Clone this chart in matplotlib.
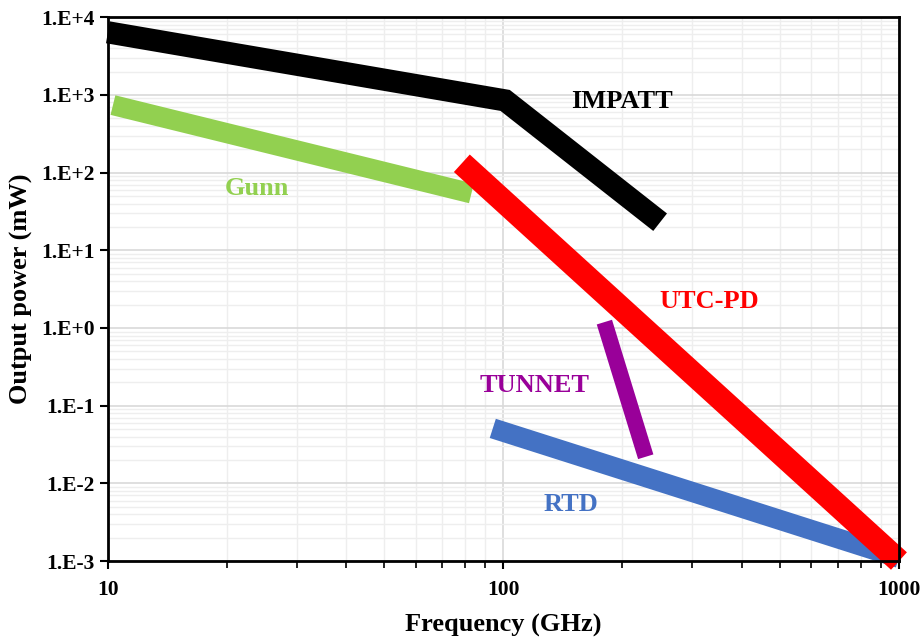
import numpy as np
import matplotlib
matplotlib.use("Agg")
import matplotlib.pyplot as plt
from matplotlib.ticker import LogLocator, FuncFormatter, NullFormatter

plt.rcParams['font.family'] = ['Liberation Serif', 'DejaVu Serif']
plt.rcParams['font.weight'] = 'bold'

# frequency (GHz) / output power (mW) for each device family
impatt_f = [10, 101, 249]
impatt_p = [6400, 850, 23]
gunn_f = [10.3, 83]
gunn_p = [740, 54]
utc_f = [78.5, 1000]
utc_p = [132, 0.001]
tunnet_f = [180, 229]
tunnet_p = [1.19, 0.022]
rtd_f = [94, 1000]
rtd_p = [0.051, 0.0011]

fig = plt.figure(figsize=(9.22, 6.39), dpi=100)
ax = fig.add_axes([0.117, 0.122, 0.858, 0.851])

ax.set_xscale('log')
ax.set_yscale('log')
ax.set_xlim(10, 1000)
ax.set_ylim(1e-3, 1e4)

ax.grid(True, which='major', color='#d9d9d9', lw=1.2)
ax.grid(True, which='minor', color='#eeeeee', lw=1.0)
ax.set_axisbelow(True)

style = dict(solid_capstyle='butt', solid_joinstyle='miter', clip_on=False)
ax.plot(impatt_f, impatt_p, color='black', lw=16, **style)
ax.plot(gunn_f, gunn_p, color='#92d050', lw=14.5, **style)
ax.plot(rtd_f, rtd_p, color='#4472c4', lw=14.5, **style)
ax.plot(utc_f, utc_p, color='#ff0000', lw=17, **style)
ax.plot(tunnet_f, tunnet_p, color='#990099', lw=11.5, **style)

lab = dict(fontsize=19, fontweight='bold', ha='center', va='center')
ax.text(200, 830, 'IMPATT', color='black', **lab)
ax.text(23.8, 62, 'Gunn', color='#92d050', **lab)
ax.text(332, 2.2, 'UTC-PD', color='#ff0000', **lab)
ax.text(120, 0.18, 'TUNNET', color='#990099', **lab)
ax.text(148, 0.0054, 'RTD', color='#4472c4', **lab)

ax.yaxis.set_major_locator(LogLocator(base=10, numticks=20))
ax.yaxis.set_minor_locator(LogLocator(base=10, subs=np.arange(2, 10), numticks=100))
ax.yaxis.set_major_formatter(FuncFormatter(lambda v, p: '1.E%+d' % int(round(np.log10(v)))))
ax.yaxis.set_minor_formatter(NullFormatter())
ax.xaxis.set_major_formatter(FuncFormatter(lambda v, p: '%d' % v))
ax.xaxis.set_minor_formatter(NullFormatter())

ax.tick_params(axis='both', which='major', labelsize=15.5, length=6, width=1.5,
               direction='out', color='black')
ax.tick_params(axis='x', which='minor', length=5, width=1.2, direction='out')
ax.tick_params(axis='y', which='minor', length=0)
ax.tick_params(axis='x', pad=8)
for t in ax.get_xticklabels() + ax.get_yticklabels():
    t.set_fontweight('bold')

for s in ax.spines.values():
    s.set_linewidth(2)
    s.set_color('black')

ax.set_xlabel('Frequency (GHz)', fontsize=19, fontweight='bold', labelpad=10)
ax.set_ylabel('Output power (mW)', fontsize=19, fontweight='bold', labelpad=6)

fig.savefig('out.png', dpi=100)
